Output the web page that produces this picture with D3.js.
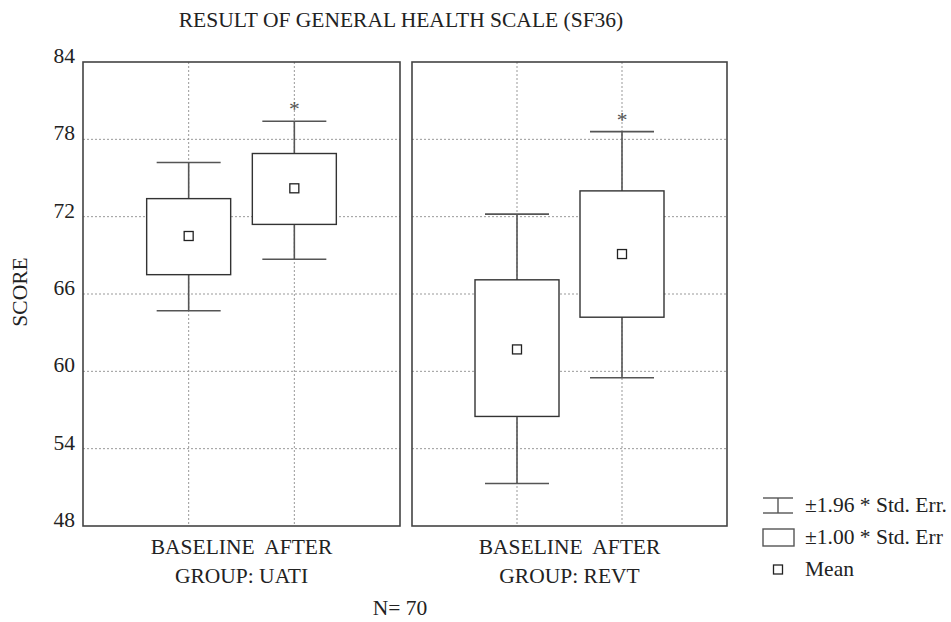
<!DOCTYPE html>
<html>
<head>
<meta charset="utf-8">
<script src="https://cdn.jsdelivr.net/npm/d3@7"></script>
<style>
  body { margin: 0; background: #fff; }
  svg text { font-family: "Liberation Serif", "DejaVu Serif", serif; fill: #222; font-size: 21.5px; }
</style>
</head>
<body>
<svg id="chart" width="951" height="622"></svg>
<script>
// values
const groups = ["UATI", "REVT"];
const conditions = ["BASELINE", "AFTER"];
const means  = [[70.5, 74.2], [61.7, 69.1]];
const seLow  = [[67.5, 71.4], [56.5, 64.2]];
const seHigh = [[73.4, 76.9], [67.1, 74.0]];
const ciLow  = [[64.7, 68.7], [51.3, 59.5]];
const ciHigh = [[76.2, 79.4], [72.2, 78.6]];
const starred = [[false, true], [false, true]];
const yTicks = [48, 54, 60, 66, 72, 78, 84];
const legendLabels = ["\u00b11.96 * Std. Err.", "\u00b11.00 * Std. Err", "Mean"];

const svg = d3.select("#chart");
const plotTop = 62, plotBottom = 526;
const panels = [[83, 400], [412, 727]];

const y = d3.scaleLinear().domain([48, 84]).range([plotBottom, plotTop]);

// title, centred over both panels
svg.append("text")
    .attr("x", 401).attr("y", 27)
    .attr("text-anchor", "middle")
    .text("RESULT OF GENERAL HEALTH SCALE (SF36)");

// y axis label + ticks
svg.append("text")
    .attr("transform", "translate(27,292) rotate(-90)")
    .attr("text-anchor", "middle")
    .text("SCORE");

svg.append("g").selectAll("text")
    .data(yTicks)
    .join("text")
    .attr("x", 75)
    .attr("y", d => y(d) + 1)
    .attr("text-anchor", "end")
    .text(d => d);

groups.forEach((g, gi) => {
    const [x0, x1] = panels[gi];
    const x = d3.scalePoint().domain(conditions).range([x0, x1]).padding(1);
    const p = svg.append("g");

    // dotted grid
    p.selectAll(".hg")
        .data(yTicks.slice(1, -1))
        .join("line")
        .attr("x1", x0).attr("x2", x1)
        .attr("y1", d => y(d)).attr("y2", d => y(d))
        .attr("stroke", "#999").attr("stroke-dasharray", "2,2");
    p.selectAll(".vg")
        .data(conditions)
        .join("line")
        .attr("x1", d => x(d)).attr("x2", d => x(d))
        .attr("y1", plotTop).attr("y2", plotBottom)
        .attr("stroke", "#999").attr("stroke-dasharray", "2,2");

    conditions.forEach((c, ci) => {
        const cx = x(c);
        // whiskers (±1.96 SE)
        p.append("line")
            .attr("x1", cx).attr("x2", cx)
            .attr("y1", y(ciHigh[gi][ci])).attr("y2", y(ciLow[gi][ci]))
            .attr("stroke", "#555").attr("stroke-width", 1.6);
        [ciHigh[gi][ci], ciLow[gi][ci]].forEach(v => {
            p.append("line")
                .attr("x1", cx - 32).attr("x2", cx + 32)
                .attr("y1", y(v)).attr("y2", y(v))
                .attr("stroke", "#555").attr("stroke-width", 1.6);
        });
        // box (±1 SE)
        p.append("rect")
            .attr("x", cx - 42).attr("width", 84)
            .attr("y", y(seHigh[gi][ci]))
            .attr("height", y(seLow[gi][ci]) - y(seHigh[gi][ci]))
            .attr("fill", "#fff").attr("stroke", "#333").attr("stroke-width", 1.4);
        // mean
        p.append("rect")
            .attr("x", cx - 4.5).attr("y", y(means[gi][ci]) - 4.5)
            .attr("width", 9).attr("height", 9)
            .attr("fill", "#fff").attr("stroke", "#222").attr("stroke-width", 1.3);
        if (starred[gi][ci]) {
            p.append("text")
                .attr("x", cx).attr("y", y(ciHigh[gi][ci]) - 5)
                .attr("text-anchor", "middle")
                .style("fill", "#555")
                .text("*");
        }
    });

    // frame
    p.append("rect")
        .attr("x", x0).attr("y", plotTop)
        .attr("width", x1 - x0).attr("height", plotBottom - plotTop)
        .attr("fill", "none").attr("stroke", "#444").attr("stroke-width", 1.6);

    const mid = (x0 + x1) / 2;
    svg.append("text")
        .attr("x", mid).attr("y", 554)
        .attr("text-anchor", "middle")
        .style("white-space", "pre")
        .text(conditions.join("  "));
    svg.append("text")
        .attr("x", mid).attr("y", 583)
        .attr("text-anchor", "middle")
        .text("GROUP: " + g);
});

svg.append("text")
    .attr("x", 400).attr("y", 615)
    .attr("text-anchor", "middle")
    .text("N= 70");

// legend
const lg = svg.append("g").attr("transform", "translate(763,0)");
lg.append("line").attr("x1", 0).attr("x2", 30).attr("y1", 498).attr("y2", 498).attr("stroke", "#555").attr("stroke-width", 1.4);
lg.append("line").attr("x1", 0).attr("x2", 30).attr("y1", 513).attr("y2", 513).attr("stroke", "#555").attr("stroke-width", 1.4);
lg.append("line").attr("x1", 15).attr("x2", 15).attr("y1", 498).attr("y2", 513).attr("stroke", "#555").attr("stroke-width", 1.4);
lg.append("rect").attr("x", 0).attr("y", 529).attr("width", 31).attr("height", 17)
    .attr("fill", "#fff").attr("stroke", "#555").attr("stroke-width", 1.4);
lg.append("rect").attr("x", 10.5).attr("y", 565).attr("width", 9).attr("height", 9)
    .attr("fill", "#fff").attr("stroke", "#222").attr("stroke-width", 1.3);
lg.selectAll(".lt")
    .data(legendLabels)
    .join("text")
    .attr("x", 42)
    .attr("y", (d, i) => 512 + i * 32)
    .text(d => d);
</script>
</body>
</html>
